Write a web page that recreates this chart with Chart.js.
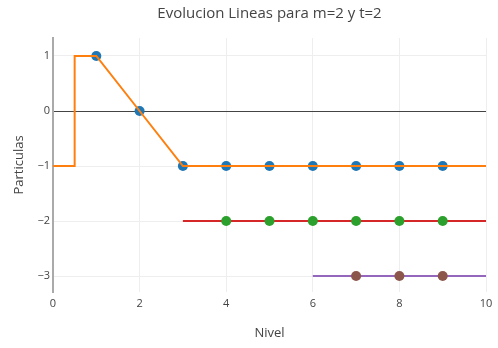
<!DOCTYPE html>
<html>
<head>
<meta charset="utf-8">
<script src="https://cdn.jsdelivr.net/npm/chart.js@4"></script>
<style>
html,body{margin:0;padding:0;background:#fff;}
canvas{display:block;}
</style>
</head>
<body>
<canvas id="c" width="498" height="348"></canvas>
<script>
const titleText = "Evolucion Lineas para m=2 y t=2";
const xTitle = "Nivel";
const yTitle = "Particulas";
const xTicks = [0, 2, 4, 6, 8, 10];
const yTicks = [-3, -2, -1, 0, 1];

const orangeX = [0, 0.5, 0.5, 1, 2, 3, 10];
const orangeY = [-1, -1, 1, 1, 0, -1, -1];
const blueX = [1, 2, 3, 4, 5, 6, 7, 8, 9];
const blueY = [1, 0, -1, -1, -1, -1, -1, -1, -1];
const redX = [3, 10];
const redY = [-2, -2];
const greenX = [4, 5, 6, 7, 8, 9];
const greenY = [-2, -2, -2, -2, -2, -2];
const purpleX = [6, 10];
const purpleY = [-3, -3];
const brownX = [7, 8, 9];
const brownY = [-3, -3, -3];

const pts = (xs, ys) => xs.map((x, i) => ({x: x, y: ys[i]}));
const FONT = "'Open Sans', 'DejaVu Sans', sans-serif";

const lineDs = (xs, ys, color, order) => ({
  data: pts(xs, ys), showLine: true, borderColor: color, borderWidth: 2,
  pointRadius: 0, fill: false, order: order, tension: 0
});
const dotDs = (xs, ys, color, order) => ({
  data: pts(xs, ys), showLine: false, backgroundColor: color, borderColor: color,
  borderWidth: 0, pointRadius: 5, order: order
});

const textPlugin = {
  id: 'texts',
  afterDraw(chart) {
    const ctx = chart.ctx;
    const a = chart.chartArea;
    ctx.save();
    ctx.fillStyle = '#444';
    ctx.textAlign = 'center';
    ctx.textBaseline = 'middle';
    ctx.font = "15px " + FONT;
    ctx.fillText(titleText, (a.left + a.right) / 2, 14);
    ctx.font = "13px " + FONT;
    ctx.fillText(xTitle, (a.left + a.right) / 2, 333);
    ctx.translate(19, (a.top + a.bottom) / 2);
    ctx.rotate(-Math.PI / 2);
    ctx.fillText(yTitle, 0, 0);
    ctx.restore();
  }
};

new Chart(document.getElementById('c'), {
  type: 'scatter',
  data: {
    datasets: [
      dotDs(blueX, blueY, '#1f77b4', 5),
      lineDs(orangeX, orangeY, '#ff7f0e', 4),
      lineDs(redX, redY, '#d62728', 3),
      dotDs(greenX, greenY, '#2ca02c', 2),
      lineDs(purpleX, purpleY, '#9467bd', 1),
      dotDs(brownX, brownY, '#8c564b', 0)
    ]
  },
  options: {
    responsive: false,
    animation: false,
    devicePixelRatio: 1,
    layout: {padding: {left: 0, right: 12, top: 38, bottom: 0}},
    plugins: {legend: {display: false}, tooltip: {enabled: false}, title: {display: false}},
    scales: {
      x: {
        type: 'linear', min: 0, max: 10,
        afterBuildTicks: s => { s.ticks = xTicks.map(v => ({value: v})); },
        afterFit: s => { s.height = 56; },
        grid: {color: '#eeeeee', lineWidth: 1, drawTicks: false},
        border: {display: false},
        ticks: {color: '#444', font: {family: FONT, size: 11}, padding: 5, maxRotation: 0,
          callback: v => String(v)}
      },
      y: {
        type: 'linear', min: -3.29, max: 1.327,
        afterBuildTicks: s => { s.ticks = yTicks.map(v => ({value: v})); },
        afterFit: s => { s.width = 53; },
        grid: {color: c => (c.tick && c.tick.value === 0) ? '#444444' : '#eeeeee', lineWidth: 1, drawTicks: false},
        border: {display: true, color: '#aaaaaa', width: 2},
        ticks: {color: '#444', font: {family: FONT, size: 11}, padding: 3,
          callback: v => (v < 0 ? '\u2212' + Math.abs(v) : String(v))}
      }
    }
  },
  plugins: [textPlugin]
});
</script>
</body>
</html>
